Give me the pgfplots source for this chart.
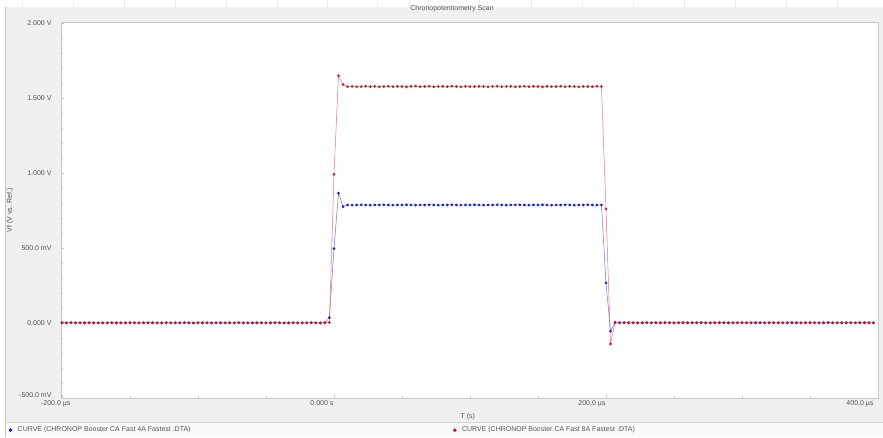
\documentclass[border=0pt]{standalone}
\usepackage{fontspec}
\setmainfont{Liberation Sans}
\usepackage{pgfplots}
\pgfplotsset{compat=1.18}
\usepackage{pgfplotstable}
\definecolor{bmark}{RGB}{30,30,190}
\definecolor{bline}{RGB}{115,115,215}
\definecolor{rmark}{RGB}{200,25,45}
\definecolor{rline}{RGB}{228,115,130}
\definecolor{panel}{RGB}{240,240,240}
\definecolor{txt}{RGB}{85,85,85}

\pgfplotstableread[row sep=\\]{
t a b\\
-200 0.001 0.002\\ -196.67 0 0.001\\ -193.33 0.001 0.002\\ -190 0 0.001\\ -186.67 0.001 0\\ -183.33 0 0.001\\
-180 0.001 0.002\\ -176.67 0 0.001\\ -173.33 0 0.001\\ -170 0.001 0\\ -166.67 0 0.001\\ -163.33 0.001 0.002\\
-160 0 0.001\\ -156.67 0.001 0\\ -153.33 0 0.001\\ -150 0 0.002\\ -146.67 0.001 0.001\\ -143.33 0 0\\
-140 0.001 0.001\\ -136.67 0 0.002\\ -133.33 0.001 0.001\\ -130 0 0\\ -126.67 0 0.001\\ -123.33 0.001 0.002\\
-120 0 0.001\\ -116.67 0.001 0\\ -113.33 0 0.001\\ -110 0.001 0.002\\ -106.67 0 0.001\\ -103.33 0 0\\
-100 0.001 0.001\\ -96.67 0 0.002\\ -93.33 0.001 0.001\\ -90 0 0\\ -86.67 0.001 0.001\\ -83.33 0 0.002\\
-80 0 0.001\\ -76.67 0.001 0\\ -73.33 0 0.001\\ -70 0.001 0.002\\ -66.67 0 0.001\\ -63.33 0.001 0\\
-60 0 0.001\\ -56.67 0 0.002\\ -53.33 0.001 0.001\\ -50 0 0\\ -46.67 0.001 0.001\\ -43.33 0 0.002\\
-40 0.001 0.001\\ -36.67 0 0\\ -33.33 0 0.001\\ -30 0.001 0.002\\ -26.67 0 0.001\\ -23.33 0.001 0\\
-20 0 0.001\\ -16.67 0.001 0.002\\ -13.33 0 0.001\\ -10 0 0\\ -6.67 0.001 0.001\\ -3.33 0.035 0.003\\
0 0.495 0.990\\ 3.33 0.865 1.647\\ 6.67 0.775 1.588\\ 10 0.786 1.574\\ 13.33 0.785 1.576\\ 16.67 0.786 1.573\\
20 0.787 1.575\\ 23.33 0.786 1.577\\ 26.67 0.785 1.574\\ 30 0.786 1.576\\ 33.33 0.786 1.573\\ 36.67 0.787 1.575\\
40 0.786 1.577\\ 43.33 0.785 1.574\\ 46.67 0.786 1.576\\ 50 0.786 1.575\\ 53.33 0.787 1.573\\ 56.67 0.786 1.576\\
60 0.785 1.578\\ 63.33 0.786 1.574\\ 66.67 0.786 1.575\\ 70 0.787 1.577\\ 73.33 0.786 1.573\\ 76.67 0.785 1.575\\
80 0.786 1.576\\ 83.33 0.786 1.574\\ 86.67 0.787 1.577\\ 90 0.786 1.575\\ 93.33 0.785 1.573\\ 96.67 0.786 1.576\\
100 0.786 1.575\\ 103.33 0.787 1.574\\ 106.67 0.786 1.576\\ 110 0.785 1.575\\ 113.33 0.786 1.573\\ 116.67 0.786 1.576\\
120 0.787 1.577\\ 123.33 0.786 1.574\\ 126.67 0.785 1.575\\ 130 0.786 1.576\\ 133.33 0.786 1.573\\ 136.67 0.787 1.575\\
140 0.786 1.577\\ 143.33 0.785 1.574\\ 146.67 0.786 1.576\\ 150 0.786 1.575\\ 153.33 0.787 1.573\\ 156.67 0.786 1.576\\
160 0.785 1.574\\ 163.33 0.786 1.575\\ 166.67 0.786 1.577\\ 170 0.787 1.574\\ 173.33 0.786 1.576\\ 176.67 0.785 1.575\\
180 0.786 1.573\\ 183.33 0.786 1.576\\ 186.67 0.787 1.575\\ 190 0.786 1.574\\ 193.33 0.785 1.577\\ 196.67 0.786 1.575\\
200 0.267 0.760\\ 203.33 -0.055 -0.140\\ 206.67 0.001 0.006\\ 210 0 0.003\\ 213.33 0.001 0.002\\ 216.67 0 0.003\\
220 0.001 0.002\\ 223.33 0 0.001\\ 226.67 0 0.002\\ 230 0.001 0.003\\ 233.33 0 0.002\\ 236.67 0.001 0.001\\
240 0 0.002\\ 243.33 0 0.003\\ 246.67 0.001 0.002\\ 250 0 0.001\\ 253.33 0.001 0.002\\ 256.67 0 0.003\\
260 0 0.002\\ 263.33 0.001 0.001\\ 266.67 0 0.002\\ 270 0.001 0.003\\ 273.33 0 0.002\\ 276.67 0 0.001\\
280 0.001 0.002\\ 283.33 0 0.003\\ 286.67 0.001 0.002\\ 290 0 0.001\\ 293.33 0 0.002\\ 296.67 0.001 0.003\\
300 0 0.002\\ 303.33 0.001 0.001\\ 306.67 0 0.002\\ 310 0 0.003\\ 313.33 0.001 0.002\\ 316.67 0 0.001\\
320 0.001 0.002\\ 323.33 0 0.003\\ 326.67 0 0.002\\ 330 0.001 0.001\\ 333.33 0 0.002\\ 336.67 0.001 0.003\\
340 0 0.002\\ 343.33 0 0.001\\ 346.67 0.001 0.002\\ 350 0 0.003\\ 353.33 0.001 0.002\\ 356.67 0 0.001\\
360 0 0.002\\ 363.33 0.001 0.003\\ 366.67 0 0.002\\ 370 0.001 0.001\\ 373.33 0 0.002\\ 376.67 0 0.003\\
380 0.001 0.002\\ 383.33 0 0.001\\ 386.67 0.001 0.002\\ 390 0 0.003\\ 393.33 0 0.002\\ 396.67 0.001 0.001\\
}\data

\begin{document}
\begin{tikzpicture}[x=1pt,y=1pt]
% page background and panel (image coords: y_tikz = 437 - y_img)
\fill[white] (0,0) rectangle (883,437);
\foreach \gx in {22,73,124,175,226,277,327,377,428,479,531,582,633,684,735,786,837}
  \draw[gray!15] (\gx,430) -- (\gx,437);
\fill[panel] (5,0) rectangle (883,430);
\draw[gray!45] (5,0) -- (5,430) -- (883,430);
\fill[gray!12] (6,415) rectangle (883,429.5);
\draw[gray!35] (5,15) -- (883,15);
\fill[gray!4] (5.5,0) rectangle (883,14.5);
\begin{axis}[
  at={(61pt,39pt)}, anchor=south west,
  width=817pt, height=376pt, scale only axis,
  xmin=-200.7, xmax=400, ymin=-0.5, ymax=2.005,
  axis background/.style={fill=white},
  axis line style={gray!45},
  tick pos=left, tick align=inside,
  major tick length=3pt, minor tick length=2pt,
  every tick/.style={gray!45},
  minor x tick num=3, minor y tick num=4,
  xtick={-200,0,200,400},
  xticklabels={-200.0 µs\hspace*{-9pt},0.000 s,200.0 µs,400.0 µs\hspace*{4pt}},
  ytick={-0.5,0,0.5,1,1.5,2},
  yticklabels={\raisebox{5pt}{-500.0 mV},0.000 V,500.0 mV,1.000 V,1.500 V,2.000 V},
  /pgf/number format/assume math mode=true,
  ticklabel style={font=\fontsize{7}{8}\selectfont, text=txt},
  xticklabel style={anchor=north east, xshift=3pt, yshift=1pt},
  yticklabel style={xshift=-6pt},
  title={Chronopotentiometry Scan},
  title style={font=\fontsize{7}{8}\selectfont, text=txt, at={(axis description cs:0.4786,1.0186)}, anchor=center},
  xlabel={T (s)},
  xlabel style={font=\fontsize{7}{8}\selectfont, text=txt, at={(axis description cs:0.498,-0.0505)}, anchor=center},
  ylabel={Vf (V vs. Ref.)},
  ylabel style={font=\fontsize{7}{8}\selectfont, text=txt, at={(axis description cs:-0.0624,0.5)}, anchor=center, rotate=0},
  legend style={at={(axis description cs:-0.0685,-0.0855)}, anchor=west, draw=none, fill=none,
    font=\fontsize{7}{8}\selectfont, text=txt, legend columns=2,
    /tikz/every even column/.append style={column sep=260pt}},
  legend cell align=left,
  legend image code/.code={\path[#1,mark size=1.6pt] plot coordinates {(2pt,0pt)}; \path (0pt,0pt) (7pt,0pt);},
]
\addplot[bline, line width=0.5pt, mark=*, mark size=1.1pt, mark options={fill=bmark, draw=bmark}] table[x=t, y=a] {\data};
\addlegendentry{CURVE (CHRONOP Booster CA Fast 4A Fastest .DTA)}
\addplot[rline, line width=0.5pt, mark=*, mark size=1.1pt, mark options={fill=rmark, draw=rmark}] table[x=t, y=b] {\data};
\addlegendentry{CURVE (CHRONOP Booster CA Fast 8A Fastest .DTA)}
\end{axis}
\pgfresetboundingbox
\path (0,0) rectangle (883,437);
\end{tikzpicture}
\end{document}
